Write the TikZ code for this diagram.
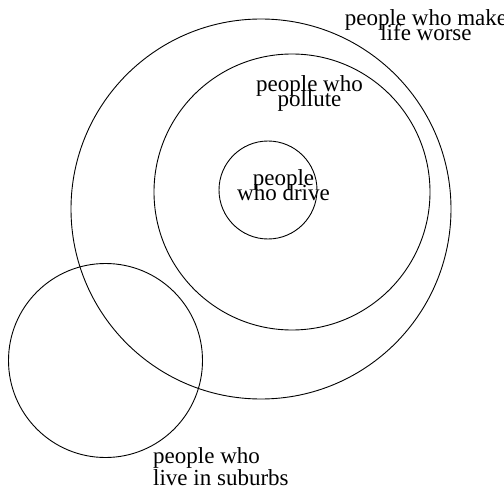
\documentclass[tikz,border=0pt]{standalone}
\usepackage{fontspec}
\setmainfont{Liberation Serif}
\begin{document}
\begin{tikzpicture}[x=1pt,y=-1pt,
  ring/.style={draw=black,line width=0.9pt},
  tightlabel/.style={inner sep=0pt,align=center,font={\fontsize{23}{15}\selectfont\lineskiplimit=-100pt}},
  looselabel/.style={inner sep=0pt,align=left,font={\fontsize{23}{22}\selectfont}}]
\useasboundingbox (0,0) rectangle (504,492);
\draw[ring] (261,209) circle[radius=190];
\draw[ring] (292,192) circle[radius=138];
\draw[ring] (268,190) circle[radius=49];
\draw[ring] (105.5,360.5) circle[radius=97];
\node[tightlabel,anchor=north] (worse) at (426,9.3) {people who make\\life worse};
\node[tightlabel,anchor=north] (pollute) at (309.5,75.3) {people who\\pollute};
\node[tightlabel,anchor=north] (drive) at (283.5,169.3) {people\\who drive};
\node[looselabel,anchor=north west] (suburbs) at (153,447.3) {people who\\live in suburbs};
\end{tikzpicture}
\end{document}
